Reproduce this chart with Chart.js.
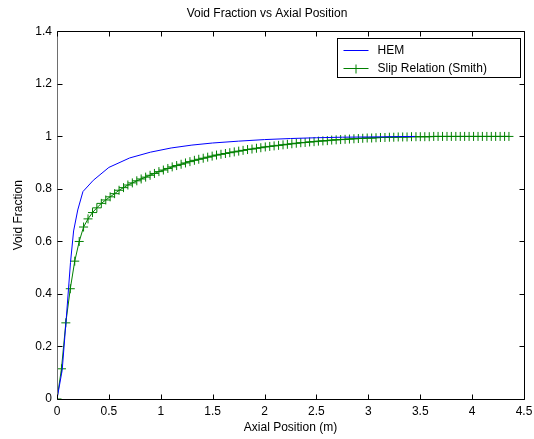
<!DOCTYPE html>
<html>
<head>
<meta charset="utf-8">
<title>Void Fraction vs Axial Position</title>
<script src="https://cdn.jsdelivr.net/npm/chart.js@4.4.0/dist/chart.umd.min.js"></script>
<style>
  html, body { margin: 0; padding: 0; background: #fff; }
  #wrap { width: 534px; height: 439px; }
</style>
</head>
<body>
<div id="wrap"><canvas id="chart" width="534" height="439"></canvas></div>
<script>
// HEM curve
const hemX = [0, 0.05, 0.09, 0.13, 0.16, 0.2, 0.25, 0.35, 0.5, 0.7, 0.9, 1.1, 1.3, 1.5, 1.75, 2.0, 2.25, 2.5, 2.75, 3.0, 3.25, 3.45];
const hemY = [0, 0.11, 0.31, 0.52, 0.64, 0.72, 0.79, 0.833, 0.882, 0.918, 0.94, 0.956, 0.967, 0.975, 0.982, 0.988, 0.992, 0.995, 0.997, 0.998, 0.999, 1.0];

// Slip relation (Smith) markers
const slipX = [
  0, 0.043, 0.085, 0.128, 0.171, 0.214, 0.256, 0.299, 0.342, 0.384,
  0.427, 0.47, 0.512, 0.555, 0.598, 0.641, 0.683, 0.726, 0.769, 0.811,
  0.854, 0.897, 0.939, 0.982, 1.025, 1.068, 1.11, 1.153, 1.196, 1.238,
  1.281, 1.324, 1.366, 1.409, 1.452, 1.495, 1.537, 1.58, 1.623, 1.665,
  1.708, 1.751, 1.793, 1.836, 1.879, 1.922, 1.964, 2.007, 2.05, 2.092,
  2.135, 2.178, 2.22, 2.263, 2.306, 2.349, 2.391, 2.434, 2.477, 2.519,
  2.562, 2.605, 2.647, 2.69, 2.733, 2.776, 2.818, 2.861, 2.904, 2.946,
  2.989, 3.032, 3.074, 3.117, 3.16, 3.203, 3.245, 3.288, 3.331, 3.373,
  3.416, 3.459, 3.501, 3.544, 3.587, 3.63, 3.672, 3.715, 3.758, 3.8,
  3.843, 3.886, 3.928, 3.971, 4.014, 4.057, 4.099, 4.142, 4.185, 4.227,
  4.27, 4.313, 4.355
];
const slipY = [
  0, 0.115, 0.29, 0.42, 0.525, 0.6, 0.655, 0.686, 0.71, 0.728,
  0.745, 0.758, 0.77, 0.782, 0.795, 0.805, 0.815, 0.823, 0.831, 0.838,
  0.845, 0.852, 0.859, 0.866, 0.872, 0.878, 0.884, 0.889, 0.894, 0.899,
  0.904, 0.909, 0.913, 0.917, 0.921, 0.925, 0.929, 0.932, 0.935, 0.938,
  0.941, 0.944, 0.947, 0.95, 0.952, 0.955, 0.957, 0.96, 0.962, 0.964,
  0.966, 0.968, 0.97, 0.972, 0.974, 0.976, 0.977, 0.979, 0.98, 0.982,
  0.983, 0.984, 0.986, 0.987, 0.988, 0.989, 0.99, 0.991, 0.992, 0.993,
  0.994, 0.994, 0.995, 0.996, 0.996, 0.997, 0.997, 0.998, 0.998, 0.998,
  0.999, 0.999, 0.999, 0.999, 0.999, 1.0, 1.0, 1.0, 1.0, 1.0,
  1.0, 1.0, 1.0, 1.0, 1.0, 1.0, 1.0, 1.0, 1.0, 1.0,
  1.0, 1.0, 1.0
];

const seriesNames = ["HEM", "Slip Relation (Smith)"];
const seriesColors = ["#0000ff", "#008000"];

const FONT = "'Liberation Sans', Arial, sans-serif";

// matlab style box with inward ticks on all four sides, plus the legend box
const boxPlugin = {
  id: "box",
  afterDraw(chart) {
    const ctx = chart.ctx;
    const a = chart.chartArea;
    const xs = chart.scales.x, ys = chart.scales.y;
    const L = Math.round(a.left) + 0.5, R = Math.round(a.right) + 0.5;
    const T = Math.round(a.top) + 0.5, B = Math.round(a.bottom) + 0.5;
    ctx.save();
    ctx.lineWidth = 1;
    ctx.strokeStyle = "#000";
    ctx.beginPath();
    ctx.moveTo(L, T); ctx.lineTo(R, T); ctx.lineTo(R, B); ctx.lineTo(L, B);
    ctx.stroke();
    ctx.strokeStyle = "#6e6e6e";
    ctx.beginPath();
    ctx.moveTo(L, T); ctx.lineTo(L, B);
    ctx.stroke();
    ctx.strokeStyle = "#000";
    ctx.beginPath();
    xs.ticks.forEach(t => {
      const px = Math.round(xs.getPixelForValue(t.value)) + 0.5;
      ctx.moveTo(px, B); ctx.lineTo(px, B - 5);
      ctx.moveTo(px, T); ctx.lineTo(px, T + 5);
    });
    ys.ticks.forEach(t => {
      const py = Math.round(ys.getPixelForValue(t.value)) + 0.5;
      ctx.moveTo(L, py); ctx.lineTo(L + 5, py);
      ctx.moveTo(R, py); ctx.lineTo(R - 5, py);
    });
    ctx.stroke();

    // legend
    const bx = 337.5, by = 38.5, bw = 183, bh = 39;
    ctx.fillStyle = "#fff";
    ctx.fillRect(bx, by, bw, bh);
    ctx.strokeStyle = "#000";
    ctx.strokeRect(bx, by, bw, bh);
    ctx.font = "12px " + FONT;
    ctx.textBaseline = "middle";
    ctx.textAlign = "left";
    seriesNames.forEach((name, i) => {
      const y = Math.round(by + 11 + i * 18) + 0.5;
      ctx.strokeStyle = seriesColors[i];
      ctx.beginPath();
      ctx.moveTo(bx + 6, y); ctx.lineTo(bx + 31, y);
      if (i === 1) {
        ctx.moveTo(bx + 18.5, y - 4); ctx.lineTo(bx + 18.5, y + 5);
        ctx.moveTo(bx + 14, y); ctx.lineTo(bx + 23, y);
      }
      ctx.stroke();
      ctx.fillStyle = "#000";
      ctx.fillText(name, bx + 40, y);
    });
    ctx.restore();
  }
};

const hemData = hemX.map((x, i) => ({ x: x, y: hemY[i] }));
const slipData = slipX.map((x, i) => ({ x: x, y: slipY[i] }));

// 1.0 -> "1", 0.50 -> "0.5"
const plainTick = v => String(Number(v.toFixed(2)));

new Chart(document.getElementById("chart"), {
  type: "line",
  data: {
    datasets: [
      {
        label: seriesNames[0],
        data: hemData,
        borderColor: seriesColors[0],
        backgroundColor: seriesColors[0],
        borderWidth: 1,
        pointRadius: 0,
        tension: 0,
        fill: false
      },
      {
        label: seriesNames[1],
        data: slipData,
        borderColor: seriesColors[1],
        backgroundColor: seriesColors[1],
        borderWidth: 1,
        pointStyle: "cross",
        pointRadius: 4.5,
        pointBorderWidth: 1,
        tension: 0,
        fill: false
      }
    ]
  },
  options: {
    responsive: false,
    animation: false,
    devicePixelRatio: 1,
    layout: { padding: { left: 0, right: 0, top: 0, bottom: 0 } },
    plugins: {
      legend: { display: false },
      tooltip: { enabled: false },
      title: {
        display: true,
        text: "Void Fraction vs Axial Position",
        color: "#000",
        font: { family: FONT, size: 12, weight: "normal" },
        padding: { top: 6, bottom: 11 }
      }
    },
    scales: {
      x: {
        type: "linear",
        min: 0,
        max: 4.5,
        afterFit(s) { s.height = 40; s.paddingRight = 10; s.paddingLeft = 0; },
        grid: { display: false, drawTicks: false },
        border: { display: false },
        ticks: { stepSize: 0.5, color: "#000", padding: 5, maxRotation: 0, callback: plainTick, font: { family: FONT, size: 12 } },
        title: { display: true, text: "Axial Position (m)", color: "#000", padding: { top: 0, bottom: 4 }, font: { family: FONT, size: 12 } }
      },
      y: {
        type: "linear",
        min: 0,
        max: 1.4,
        afterFit(s) { s.width = 57; },
        grid: { display: false, drawTicks: false },
        border: { display: false },
        ticks: { stepSize: 0.2, color: "#000", padding: 5, callback: plainTick, font: { family: FONT, size: 12 } },
        title: { display: true, text: "Void Fraction", color: "#000", padding: { top: 11, bottom: 0 }, font: { family: FONT, size: 12 } }
      }
    }
  },
  plugins: [boxPlugin]
});
</script>
</body>
</html>
